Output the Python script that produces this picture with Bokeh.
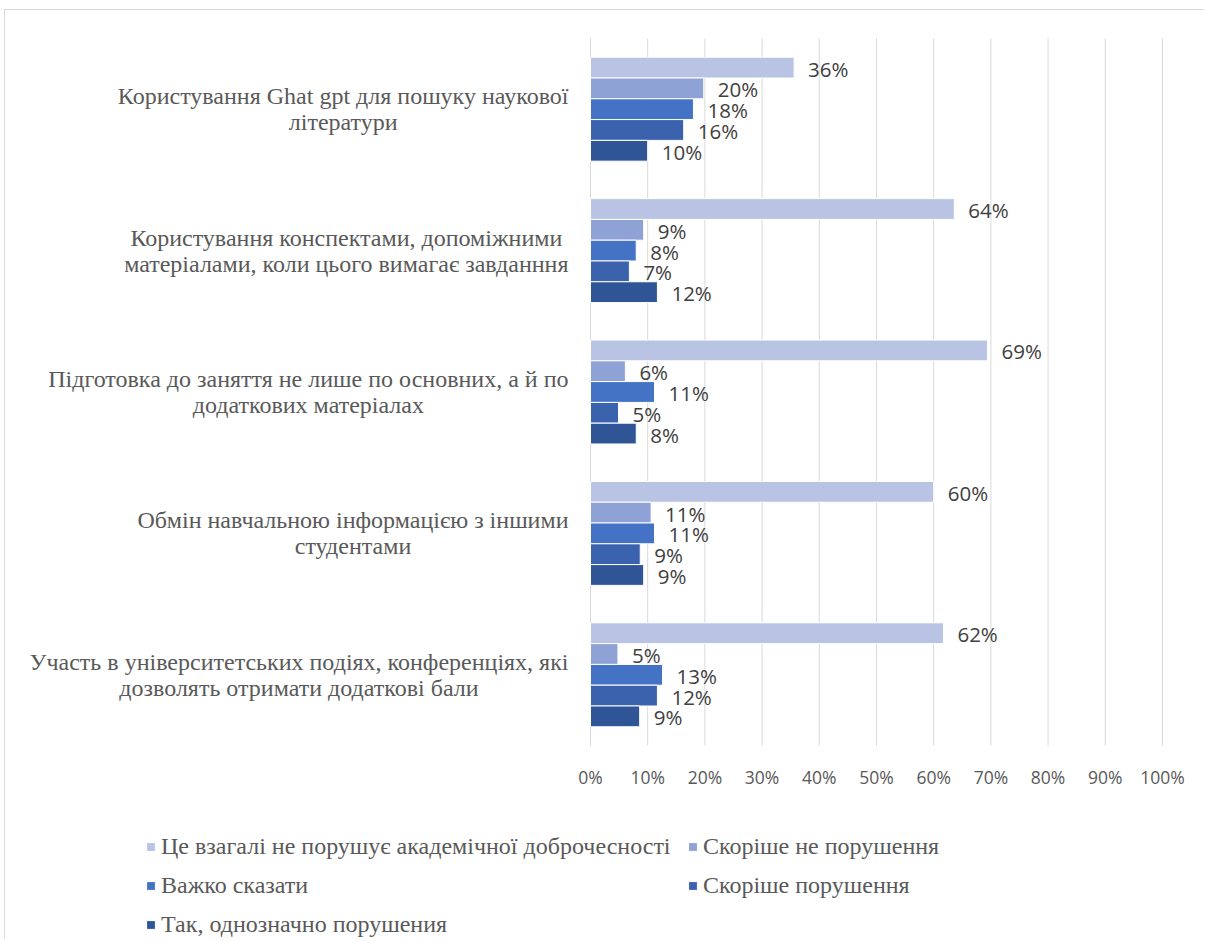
from bokeh.plotting import figure
from bokeh.models import Range1d, LegendItem, Legend
from bokeh.core.properties import value
from bokeh.embed import file_html
from bokeh.resources import INLINE

categories = [
    "Користування Ghat gpt для пошуку наукової\nлітератури",
    "Користування конспектами, допоміжними\nматеріалами, коли цього вимагає завданння",
    "Підготовка до заняття не лише по основних, а й по\nдодаткових матеріалах",
    "Обмін навчальною інформацією з іншими\nстудентами",
    "Участь в університетських подіях, конференціях, які\nдозволять отримати додаткові бали",
]
series_names = [
    "Це взагалі не порушує академічної доброчесності",
    "Скоріше не порушення",
    "Важко сказати",
    "Скоріше порушення",
    "Так, однозначно порушения",
]
s_not_at_all = [35.6, 63.6, 69.4, 60.0, 61.7]
s_rather_not = [19.8, 9.3, 6.1, 10.6, 4.8]
s_hard_to_say = [18.0, 8.0, 11.2, 11.2, 12.6]
s_rather_yes = [16.3, 6.8, 4.9, 8.7, 11.7]
s_definitely = [10.0, 11.7, 8.0, 9.3, 8.6]
series_values = [s_not_at_all, s_rather_not, s_hard_to_say, s_rather_yes, s_definitely]
tick_values = [0, 10, 20, 30, 40, 50, 60, 70, 80, 90, 100]
tick_labels = [f"{t}%" for t in tick_values]

colors = ["#B9C3E3", "#8FA2D6", "#4472C4", "#3B62AC", "#2F5597"]

n = len(categories)
bar_h = 0.147

# frame covers whole canvas; plot area is x in [0,100], y in [0,n]
p = figure(width=1200, height=930, x_range=Range1d(-102.27, 107.52),
           y_range=Range1d(-1.379, n + 0.198),
           output_backend="svg", toolbar_location=None,
           x_axis_location=None, y_axis_location=None,
           min_border_left=0, min_border_right=0, min_border_top=0, min_border_bottom=0)
p.styles = {"border-top": "1px solid #d9d9d9", "border-left": "1px solid #d9d9d9",
            "margin-top": "9px", "margin-left": "4px"}
p.outline_line_color = None
p.grid.visible = False

# vertical gridlines over the plot area
p.segment(x0=tick_values, y0=[0] * len(tick_values), x1=tick_values, y1=[n] * len(tick_values),
          line_color="#d9d9d9", line_width=1)
# x tick labels
p.text(x=tick_values, y=[0] * len(tick_values), text=tick_labels, y_offset=31,
       text_align="center", text_baseline="middle", text_font=value("Open Sans"),
       text_font_size="17.5px", text_color="#595959")

items = []
for si, (name, vals, col) in enumerate(zip(series_names, series_values, colors)):
    ys = [n - 0.5 - ci + (2 - si) * bar_h for ci in range(n)]
    r = p.hbar(y=ys, left=0, right=vals, height=bar_h, fill_color=col,
               line_color="white", line_width=1)
    items.append(LegendItem(label=name, renderers=[r]))
    p.text(x=vals, y=ys, text=[f"{v:.0f}%" for v in vals], x_offset=14, y_offset=1,
           text_align="left", text_baseline="middle", text_font=value("Open Sans"),
           text_font_size="20.5px", text_color="#404040")

cat_y = [n - 0.5 - ci for ci in range(n)]
p.text(x=[0] * n, y=cat_y, text=categories, x_offset=-22, anchor="center_right",
       text_align="center", text_baseline="middle", text_font=value("Liberation Serif"),
       text_font_size="24px", text_color="#595959", text_line_height=1.0)

legend = Legend(items=items, location=(140, 2), orientation="horizontal", ncols=2,
                label_text_font="Liberation Serif", label_text_font_size="24px",
                label_text_color="#595959", glyph_width=11, glyph_height=11,
                label_height=26, label_width=514, label_standoff=5, spacing=12,
                padding=0, margin=0, border_line_color=None, background_fill_alpha=0)
p.add_layout(legend, "center")

open("out.html", "w").write(file_html(p, INLINE))
